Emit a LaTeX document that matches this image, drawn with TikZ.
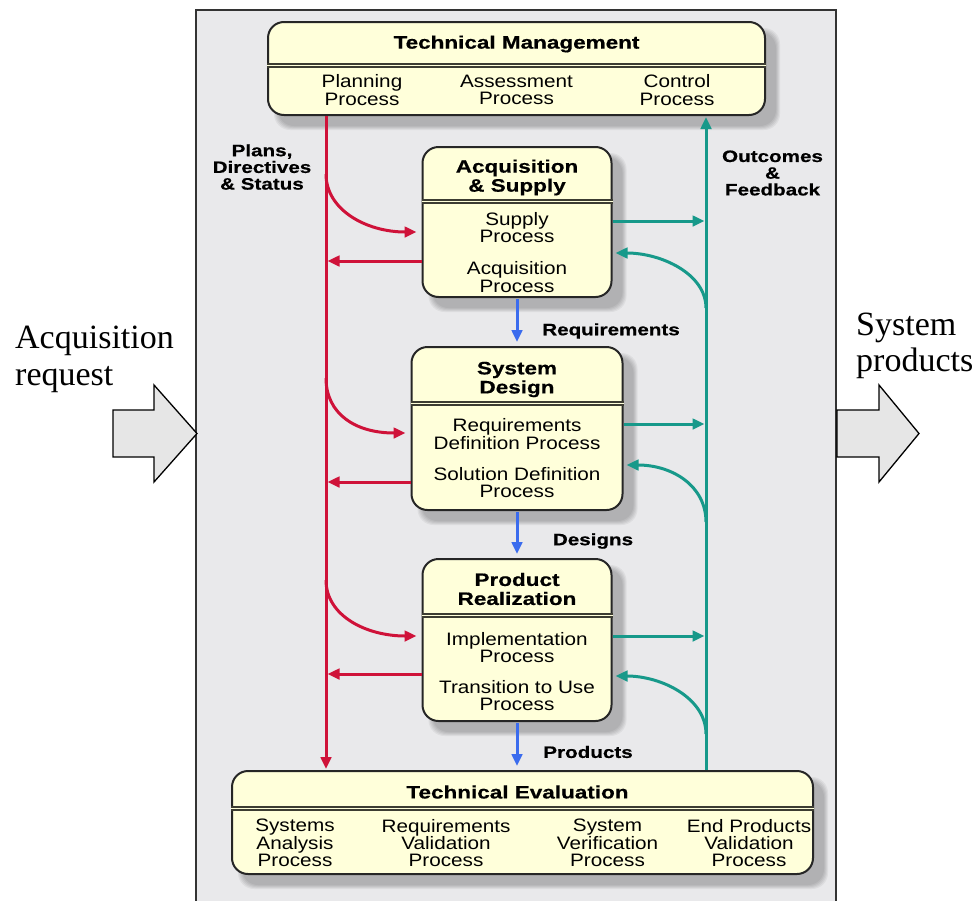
\documentclass[tikz,border=0pt]{standalone}
\usepackage{fontspec}
\newfontfamily\regf[FakeStretch=1.15]{Liberation Sans}
\newfontfamily\boldf[FakeStretch=1.25, BoldFeatures={FakeBold=0.6}]{Liberation Sans}
\newfontfamily\serf{Liberation Serif}
\usetikzlibrary{arrows.meta,calc}

\definecolor{framebg}{HTML}{E9E9EB}
\definecolor{boxfill}{HTML}{FFFFDA}
\definecolor{flowred}{HTML}{CF1239}
\definecolor{flowteal}{HTML}{17998A}
\definecolor{flowblue}{HTML}{3B6CEE}
\definecolor{rulecol}{HTML}{3C3C32}
\definecolor{blockgray}{HTML}{E6E6E6}

\pgfdeclarelayer{back}
\pgfdeclarelayer{shadelayer}
\pgfsetlayers{back,shadelayer,main}

% soft drop shadow behind a process box
\newcommand\boxshade[1]{%
  \begin{pgfonlayer}{shadelayer}
    \foreach \k in {0,1,2,3,4}{%
      \fill[black, opacity=0.05, rounded corners=16pt]
        ([shift={(7+\k,7+\k)}]#1.north west) rectangle ([shift={(14-\k,14-\k)}]#1.south east);}
  \end{pgfonlayer}}

\tikzset{
  procbox/.style={draw=black!85, line width=2pt, fill=boxfill, rounded corners=16pt, inner sep=0pt},
  divider/.style={draw=rulecol, line width=1.4pt, double=boxfill, double distance=1.9pt},
  ttl/.style={font=\boldf\bfseries\fontsize{18}{19}\selectfont, align=center, inner sep=0pt},
  sub/.style={font=\regf\fontsize{18}{17.3}\selectfont, align=center, inner sep=0pt},
  lbl/.style={font=\boldf\bfseries\fontsize{16.5}{16.7}\selectfont, align=center, inner sep=0pt},
  serifline/.style={font=\serf\fontsize{34}{36}\selectfont, inner sep=0pt, anchor=base west},
  arr/.style={-{Triangle[length=12pt,width=10.5pt]}},
  redln/.style={draw=flowred, line width=3pt},
  tealln/.style={draw=flowteal, line width=3pt},
  blueln/.style={draw=flowblue, line width=3pt},
  blockarrow/.style={draw=black, line width=1.3pt, fill=blockgray, line join=miter},
}

\begin{document}
\begin{tikzpicture}[x=1pt,y=-1pt]
\useasboundingbox (0,0) rectangle (980,900);

% outer frame
\begin{pgfonlayer}{back}
  \fill[framebg] (196,10) rectangle (836,915);
\end{pgfonlayer}
\draw[draw=black!80, line width=2pt] (196,915) -- (196,10) -- (836,10) -- (836,915);

% process boxes
\node[procbox, minimum width=497pt, minimum height=93pt]  (tm) at (516.5,68.5) {};
\node[procbox, minimum width=189pt, minimum height=150pt] (as) at (517,222) {};
\node[procbox, minimum width=211pt, minimum height=163pt] (sd) at (517,428.5) {};
\node[procbox, minimum width=189pt, minimum height=162pt] (pr) at (517,640) {};
\node[procbox, minimum width=581pt, minimum height=103pt] (te) at (522.5,822.5) {};
\boxshade{tm}\boxshade{as}\boxshade{sd}\boxshade{pr}\boxshade{te}

% title dividers
\draw[divider] ([yshift=-44.5pt]tm.north west) -- ([yshift=-44.5pt]tm.north east);
\draw[divider] ([yshift=-55.5pt]as.north west) -- ([yshift=-55.5pt]as.north east);
\draw[divider] ([yshift=-57.5pt]sd.north west) -- ([yshift=-57.5pt]sd.north east);
\draw[divider] ([yshift=-57.5pt]pr.north west) -- ([yshift=-57.5pt]pr.north east);
\draw[divider] ([yshift=-38.5pt]te.north west) -- ([yshift=-38.5pt]te.north east);

% box texts
\node[ttl] (tmT) at (516.5,44) {Technical Management};
\node[sub] (tmP) at (362,90) {Planning\\Process};
\node[sub] (tmA) at (516.5,90) {Assessment\\Process};
\node[sub] (tmC) at (677,90) {Control\\Process};

\node[ttl] (asT) at (517,177.5) {Acquisition\\\& Supply};
\node[sub] (asS) at (517,227.5) {Supply\\Process};
\node[sub] (asA) at (517,277) {Acquisition\\Process};

\node[ttl] (sdT) at (517,379.5) {System\\Design};
\node[sub] (sdR) at (517,434) {Requirements\\Definition Process};
\node[sub] (sdS) at (517,482.5) {Solution Definition\\Process};

\node[ttl] (prT) at (517,589) {Product\\Realization};
\node[sub] (prI) at (517,647.5) {Implementation\\Process};
\node[sub] (prU) at (517,695.5) {Transition to Use\\Process};

\node[ttl] (teT) at (517.5,792) {Technical Evaluation};
\node[sub] (teS) at (295,843) {Systems\\Analysis\\Process};
\node[sub] (teR) at (446,843) {Requirements\\Validation\\Process};
\node[sub] (teV) at (607.5,843) {System\\Verification\\Process};
\node[sub] (teE) at (749,843) {End Products\\Validation\\Process};

% flow labels
\node[lbl] (lPlans) at (262,167) {Plans,\\Directives\\\& Status};
\node[lbl] (lOut) at (772.5,173) {Outcomes\\\&\\Feedback};
\node[lbl] (lReq) at (611,331) {Requirements};
\node[lbl] (lDes) at (593,541) {Designs};
\node[lbl] (lProd) at (588,752) {Products};

% trunk lines
\coordinate (rx) at (326,0);
\coordinate (tx) at (706,0);
\draw[redln, arr, shorten >=1pt] (tm.south -| rx) -- (te.north -| rx);
\draw[tealln, arr, shorten >=1pt] (te.north -| tx) -- (tm.south -| tx);

% branch points on the trunks
\coordinate (rA) at (326,174);
\coordinate (rS) at (326,378);
\coordinate (rP) at (326,580);
\coordinate (tA) at (706,308);
\coordinate (tS) at (706,522);
\coordinate (tP) at (706,734);

% plans and directives into each box, status back
\draw[redln, arr] (rA) .. controls +(0,36) and +(-50,0) .. ([xshift=-5pt,yshift=-10pt]as.west);
\draw[redln, arr] (rS) .. controls +(0,36) and +(-50,0) .. ([xshift=-5pt,yshift=-4.5pt]sd.west);
\draw[redln, arr] (rP) .. controls +(0,36) and +(-50,0) .. ([xshift=-5pt,yshift=4pt]pr.west);
\draw[redln, arr, shorten >=1.5pt] ([yshift=-39pt]as.west) coordinate (aB) -- (aB -| rx);
\draw[redln, arr, shorten >=1.5pt] ([yshift=-53.5pt]sd.west) coordinate (sB) -- (sB -| rx);
\draw[redln, arr, shorten >=1.5pt] ([yshift=-34pt]pr.west) coordinate (pB) -- (pB -| rx);

% outcomes out of each box, feedback back in
\draw[tealln, arr, shorten >=1.5pt] ([yshift=1pt]as.east) coordinate (aO) -- (aO -| tx);
\draw[tealln, arr, shorten >=1.5pt] ([yshift=4.5pt]sd.east) coordinate (sO) -- (sO -| tx);
\draw[tealln, arr, shorten >=1.5pt] ([yshift=4pt]pr.east) coordinate (pO) -- (pO -| tx);
\draw[tealln, arr] (tA) .. controls +(0,-34) and +(46,0) .. ([xshift=3pt,yshift=-31pt]as.east);
\draw[tealln, arr] (tS) .. controls +(0,-36) and +(46,0) .. ([xshift=3pt,yshift=-36.5pt]sd.east);
\draw[tealln, arr] (tP) .. controls +(0,-36) and +(46,0) .. ([xshift=3pt,yshift=-36pt]pr.east);

% work products down the chain
\draw[blueln, arr, shorten <=1pt, shorten >=4pt] (as.south) -- (sd.north);
\draw[blueln, arr, shorten <=1pt, shorten >=4pt] (sd.south) -- (pr.north);
\draw[blueln, arr, shorten <=1pt, shorten >=4pt] (pr.south) -- (te.north -| pr.south);

% input and output block arrows
\draw[blockarrow] (113,410) -- (154,410) -- (154,385) -- (197,433.5) -- (154,482) -- (154,457) -- (113,457) -- cycle;
\draw[blockarrow] (837,410) -- (879,410) -- (879,385) -- (919,433.5) -- (879,482) -- (879,457) -- (837,457) -- cycle;
\node[serifline] (inA) at (15,348) {Acquisition};
\node[serifline] (inB) at (15,385) {request};
\node[serifline] (outA) at (856,335) {System};
\node[serifline] (outB) at (856,371) {products};
\end{tikzpicture}
\end{document}
